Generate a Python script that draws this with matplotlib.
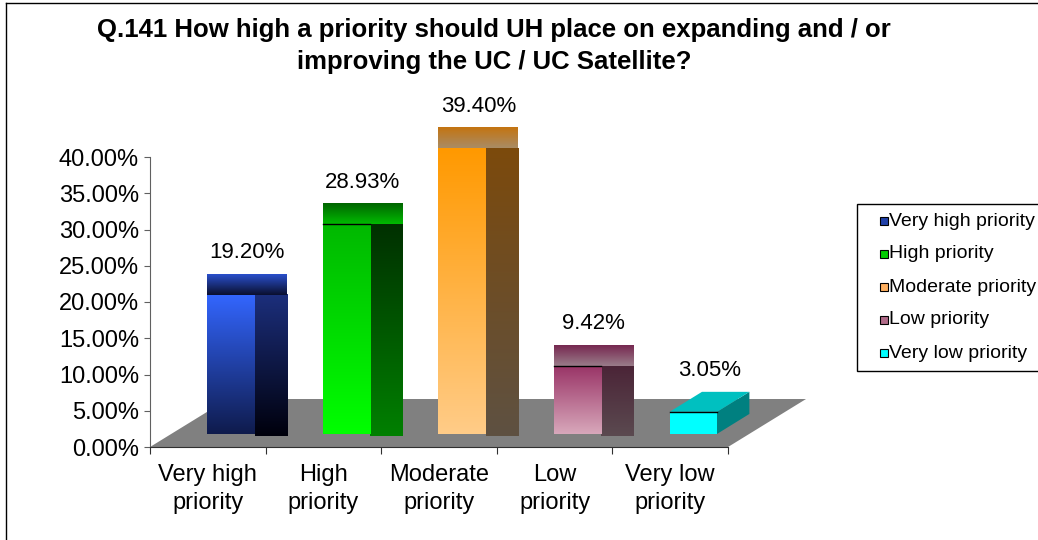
import numpy as np
import matplotlib
matplotlib.use('Agg')
import matplotlib.pyplot as plt
from matplotlib.colors import LinearSegmentedColormap
from matplotlib.patches import Polygon, Rectangle
from matplotlib.lines import Line2D

plt.rcParams['font.family'] = ['Liberation Sans', 'DejaVu Sans']

title = 'Q.141 How high a priority should UH place on expanding and / or\nimproving the UC / UC Satellite?'
categories = ['Very high\npriority', 'High\npriority', 'Moderate\npriority', 'Low\npriority', 'Very low\npriority']
series_names = ['Very high priority', 'High priority', 'Moderate priority', 'Low priority', 'Very low priority']
values = [19.20, 28.93, 39.40, 9.42, 3.05]
y_ticks = [0, 5, 10, 15, 20, 25, 30, 35, 40]

# colours per face as (top, bottom) of the gradient
front_cols = [('#3366ff', '#0f1b4c'), ('#00b800', '#00ff00'), ('#ff9900', '#ffcc88'),
              ('#993366', '#d8a8bb'), ('#00ffff', '#00ffff')]
side_cols = [('#1c2f7c', '#00000c'), ('#003000', '#008000'), ('#7c4a0c', '#5e5142'),
             ('#4b2437', '#5b4a50'), ('#008080', '#008080')]
top_cols = [('#2a50cc', '#0a0f2e'), ('#006400', '#00bb00'), ('#c47410', '#a98c66'),
            ('#762850', '#9a7c8a'), ('#00c0c0', '#00c0c0')]
legend_cols = ['#2040a8', '#00cc00', '#ffb060', '#b06a88', '#00ffff']
gradient = [True, True, True, True, False]
top_line = [False, True, False, True, True]

W_PX, H_PX = 1038, 540
fig = plt.figure(figsize=(W_PX / 100, H_PX / 100), dpi=100)
ax = fig.add_axes([150 / W_PX, 1 - 447 / H_PX, 578 / W_PX, 290 / H_PX])

# 3d geometry in data units
BAR_W = 0.41     # front face width
DX, DY = 0.28, 2.76   # bar depth
FX, FY = 0.675, 6.62  # floor depth
BX, BY = 0.2, 1.8     # bar offset into the floor


def grad_rect(x0, x1, y0, y1, cols, z):
    cmap = LinearSegmentedColormap.from_list('face', [cols[1], cols[0]])
    grad = np.linspace(0, 1, 256).reshape(-1, 1)
    ax.imshow(grad, extent=(x0, x1, y0, y1), origin='lower', cmap=cmap,
              aspect='auto', zorder=z, clip_on=False, interpolation='bilinear')


n = len(values)
floor = Polygon([(0, 0), (n, 0), (n + FX, FY), (FX, FY)], closed=True,
                facecolor='#808080', edgecolor='none', zorder=1, clip_on=False)
ax.add_patch(floor)

for i, v in enumerate(values):
    x0 = i + 0.5 - BAR_W / 2 + BX
    x1 = x0 + BAR_W
    y0 = BY
    y1 = BY + v
    z = 3 + i
    if gradient[i]:
        grad_rect(x1, x1 + DX, y0 - 0.3, y1, side_cols[i], z)
        grad_rect(x0, x1, y0, y1, front_cols[i], z + 0.1)
        grad_rect(x0, x1 + DX, y1, y1 + DY, top_cols[i], z + 0.2)
    else:
        ax.add_patch(Polygon([(x1, y0), (x1 + DX, y0 + DY), (x1 + DX, y1 + DY), (x1, y1)],
                             facecolor=side_cols[i][0], edgecolor='none', zorder=z, clip_on=False))
        ax.add_patch(Rectangle((x0, y0), BAR_W, v, facecolor=front_cols[i][0],
                               edgecolor='none', zorder=z + 0.1, clip_on=False))
        ax.add_patch(Polygon([(x0, y1), (x1, y1), (x1 + DX, y1 + DY), (x0 + DX, y1 + DY)],
                             facecolor=top_cols[i][0], edgecolor='none', zorder=z + 0.2, clip_on=False))
    if top_line[i]:
        ax.plot([x0, x1], [y1, y1], color='black', lw=1, zorder=z + 0.3, clip_on=False)
    ax.text((x0 + x1 + DX) / 2, y1 + DY + 3.0, '%.2f%%' % v, ha='center', va='center',
            fontsize=16, zorder=10)

ax.set_xlim(0, n)
ax.set_ylim(0, 40)
ax.set_facecolor('none')
for s in ['top', 'right']:
    ax.spines[s].set_visible(False)
ax.spines['left'].set_color('#606060')
ax.spines['bottom'].set_color('#303030')
ax.spines['left'].set_zorder(0.5)

ax.set_yticks(y_ticks)
ax.set_yticklabels(['%.2f%%' % t for t in y_ticks])
ax.tick_params(axis='y', direction='out', length=4, pad=4, labelsize=17, color='#606060')

ax.set_xticks(np.arange(n + 1))
ax.set_xticklabels([])
ax.set_xticks(np.arange(n) + 0.5, minor=True)
ax.set_xticklabels(categories, minor=True, fontsize=17, linespacing=1.38)
ax.tick_params(axis='x', which='major', direction='out', length=5, color='#303030')
ax.tick_params(axis='x', which='minor', length=0, pad=12)

fig.text(494 / W_PX, 1 - 46 / H_PX, title, ha='center', va='center', fontsize=18.5,
         fontweight='bold', linespacing=1.38)


def fx(px):
    return px / W_PX


def fy(py):
    return 1 - py / H_PX


# legend box
fig.add_artist(Rectangle((fx(857), fy(371)), fx(200), 167 / H_PX, transform=fig.transFigure,
                         facecolor='white', edgecolor='black', lw=1))
for k, (name, c) in enumerate(zip(series_names, legend_cols)):
    yc = 221 + k * 33
    fig.add_artist(Rectangle((fx(880), fy(yc + 4)), fx(8), 8 / H_PX, transform=fig.transFigure,
                             facecolor=c, edgecolor='black', lw=0.8))
    fig.text(fx(889), fy(yc), name, ha='left', va='center', fontsize=14)

# outer chart border
fig.add_artist(Line2D([fx(6), fx(6)], [fy(3), 0], transform=fig.transFigure, color='black', lw=1))
fig.add_artist(Line2D([fx(6), 1], [fy(3), fy(3)], transform=fig.transFigure, color='black', lw=1))

fig.savefig('out.png', dpi=100)
